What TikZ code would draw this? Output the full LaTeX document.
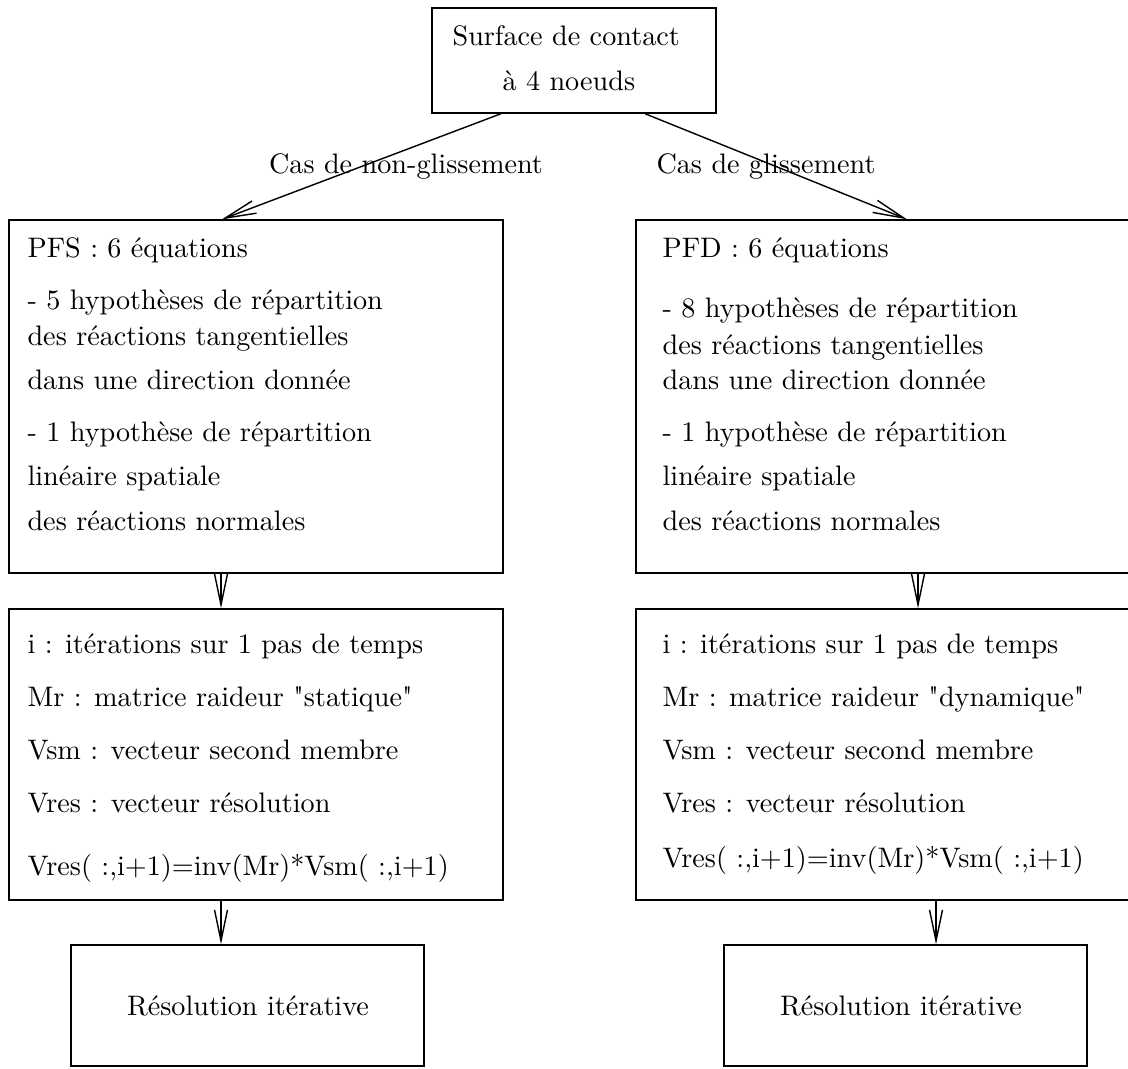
\documentclass[tikz,border=0pt]{standalone}
\usetikzlibrary{arrows.meta,fit}

\begin{document}
\begin{tikzpicture}[x=0.3546pt,y=-0.3546pt,
  box/.style={draw,line width=0.5pt,inner sep=0pt},
  txt/.style={anchor=base west,inner sep=0pt},
  ctxt/.style={anchor=base,inner sep=0pt},
  arr/.style={line width=0.5pt,-{Straight Barb[length=11pt,width=4.6pt]}}]
  \useasboundingbox (0,0) rectangle (1128,1068);

  % boxes
  \node[box,fit={(432,8) (716,113)}] (contact) {};
  \node[box,fit={(9,220) (503,573)}] (pfs) {};
  \node[box,fit={(636,220) (1136,573)}] (pfd) {};
  \node[box,fit={(9,609) (503,900)}] (iterS) {};
  \node[box,fit={(636,609) (1136,900)}] (iterD) {};
  \node[box,fit={(71,945) (424,1066)}] (resS) {};
  \node[box,fit={(724,945) (1087,1066)}] (resD) {};

  % top
  \node[txt] (contact1) at (452,45) {Surface de contact};
  \node[txt] (contact2) at (502,90) {à 4 noeuds};
  \node[ctxt] (nonglis) at (406,173) {Cas de non-glissement};
  \node[ctxt] (glis) at (766,173) {Cas de glissement};

  % non-glissement
  \node[txt] (pfs1) at (27,257) {PFS : 6 équations};
  \node[txt] (pfs2) at (27,309) {- 5 hypothèses de répartition};
  \node[txt] (pfs3) at (27,345) {des réactions tangentielles};
  \node[txt] (pfs4) at (27,389) {dans une direction donnée};
  \node[txt] (pfs5) at (27,441) {- 1 hypothèse de répartition};
  \node[txt] (pfs6) at (27,485) {linéaire spatiale};
  \node[txt] (pfs7) at (27,530) {des réactions normales};

  \node[txt] (iterS1) at (27,653) {i : itérations sur 1 pas de temps};
  \node[txt] (iterS2) at (27,706) {Mr : matrice raideur \textquotedbl statique\textquotedbl};
  \node[txt] (iterS3) at (27,759) {Vsm : vecteur second membre};
  \node[txt] (iterS4) at (27,812) {Vres : vecteur résolution};
  \node[txt] (iterS5) at (27,875) {Vres( :,i+1)=inv(Mr)*Vsm( :,i+1)};

  \node[ctxt] (resS1) at (248,1015) {Résolution itérative};

  % glissement
  \node[txt] (pfd1) at (662,257) {PFD : 6 équations};
  \node[txt] (pfd2) at (662,317) {- 8 hypothèses de répartition};
  \node[txt] (pfd3) at (662,354) {des réactions tangentielles};
  \node[txt] (pfd4) at (662,389) {dans une direction donnée};
  \node[txt] (pfd5) at (662,441) {- 1 hypothèse de répartition};
  \node[txt] (pfd6) at (662,485) {linéaire spatiale};
  \node[txt] (pfd7) at (662,530) {des réactions normales};

  \node[txt] (iterD1) at (662,653) {i : itérations sur 1 pas de temps};
  \node[txt] (iterD2) at (662,706) {Mr : matrice raideur \textquotedbl dynamique\textquotedbl};
  \node[txt] (iterD3) at (662,759) {Vsm : vecteur second membre};
  \node[txt] (iterD4) at (662,812) {Vres : vecteur résolution};
  \node[txt] (iterD5) at (662,867) {Vres( :,i+1)=inv(Mr)*Vsm( :,i+1)};

  \node[ctxt] (resD1) at (901,1015) {Résolution itérative};

  % arrows
  \draw[arr] (501,0 |- contact.south) -- (222,0 |- pfs.north);
  \draw[arr] (645,0 |- contact.south) -- (907,0 |- pfd.north);
  \draw[arr] (221,0 |- pfs.south) -- (221,0 |- iterS.north);
  \draw[arr] (918,0 |- pfd.south) -- (918,0 |- iterD.north);
  \draw[arr] (221,0 |- iterS.south) -- (221,0 |- resS.north);
  \draw[arr] (936,0 |- iterD.south) -- (936,0 |- resD.north);
\end{tikzpicture}
\end{document}
